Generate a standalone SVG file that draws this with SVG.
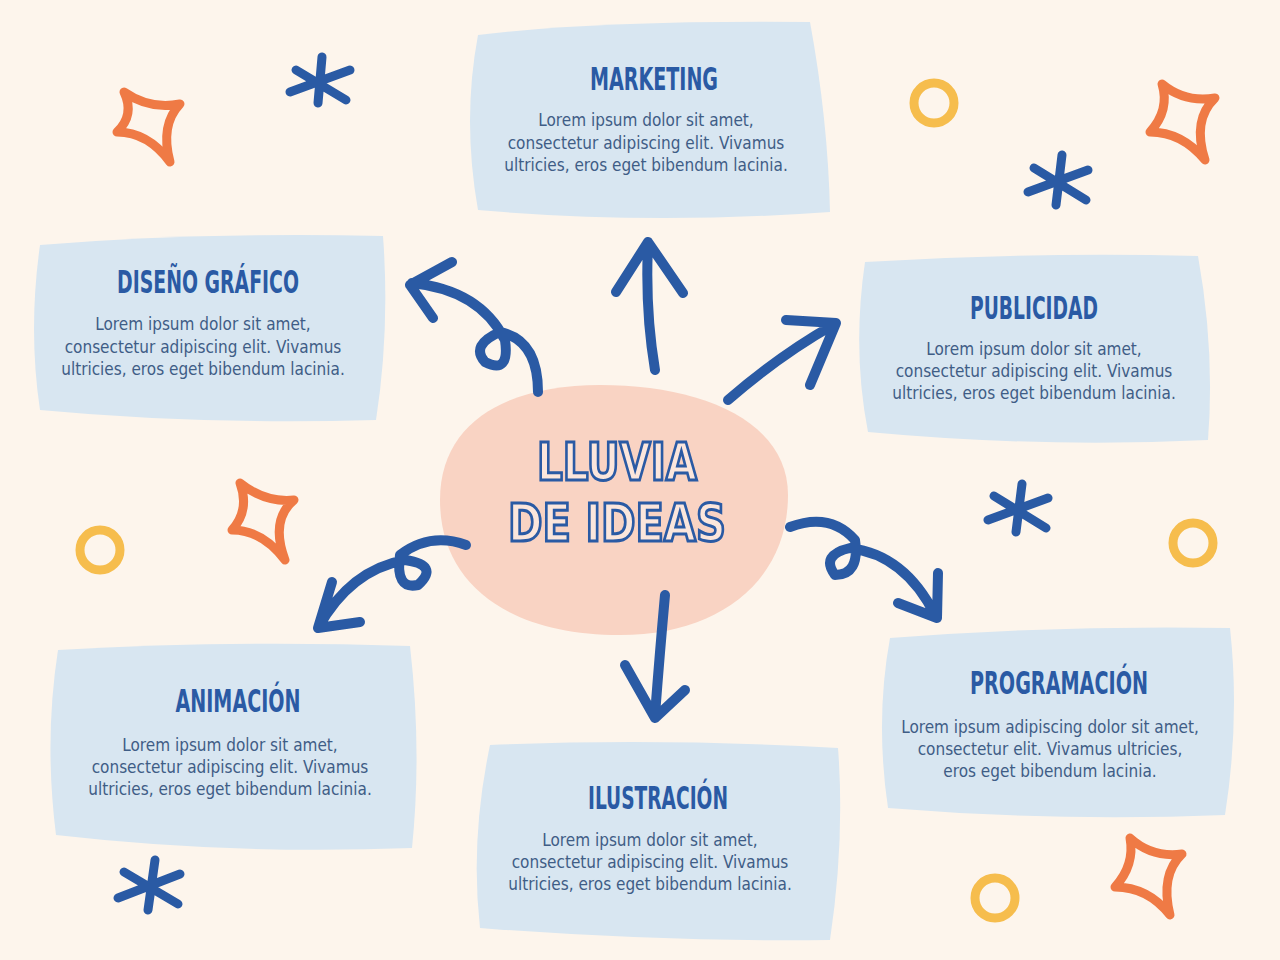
<svg xmlns="http://www.w3.org/2000/svg" width="1280" height="960" viewBox="0 0 1280 960">
<style>
.box{fill:#d8e6f1}
.ttl{font-family:"DejaVu Sans Condensed","DejaVu Sans",sans-serif;font-stretch:condensed;font-weight:bold;font-size:32px;fill:#2a5aa4;text-anchor:middle}
.txt{font-family:"DejaVu Sans Condensed","DejaVu Sans",sans-serif;font-stretch:condensed;font-size:17px;fill:#3f5d86;text-anchor:middle}
.arr{fill:none;stroke:#2a5aa4;stroke-width:10;stroke-linecap:round;stroke-linejoin:round}
.star{fill:none;stroke:#ef7a45;stroke-width:9;stroke-linejoin:round;stroke-linecap:round}
.ast{stroke:#2a5aa4;stroke-width:9;stroke-linecap:round}
.ring{fill:none;stroke:#f6bd4d;stroke-width:9}
.big{font-family:"DejaVu Sans Condensed","DejaVu Sans",sans-serif;font-stretch:condensed;font-weight:bold;font-size:52px;fill:#fbe6dc;stroke:#2a5aa4;stroke-width:3;text-anchor:middle}
</style>
<rect width="1280" height="960" fill="#fdf5ec"/>
<g id="decor">
<path class="star" d="M124 92 Q150 110 180 104 Q160 125 170 162 Q148 132 117 132 Q135 115 124 92Z"/>
<path class="star" d="M240 483 Q265 503 294 500 Q270 520 285 560 Q262 530 232 530 Q250 510 240 483Z"/>
<path class="star" d="M1162 84 Q1185 103 1215 98 Q1192 120 1205 160 Q1182 132 1150 132 Q1170 110 1162 84Z"/>
<path class="star" d="M1130 838 Q1152 858 1182 854 Q1160 875 1170 915 Q1148 887 1115 887 Q1135 865 1130 838Z"/>
<g class="ast"><path d="M322 57 L318 103 M290 92 L350 70 M296 70 L346 100"/></g>
<g class="ast"><path d="M1062 155 L1056 205 M1028 192 L1088 170 M1034 168 L1086 200"/></g>
<g class="ast"><path d="M1022 484 L1016 532 M988 520 L1048 498 M994 496 L1046 528"/></g>
<g class="ast"><path d="M155 860 L148 910 M118 898 L180 874 M124 872 L178 904"/></g>
<circle class="ring" cx="934" cy="103" r="20"/>
<circle class="ring" cx="100" cy="550" r="20"/>
<circle class="ring" cx="1193" cy="543" r="20"/>
<circle class="ring" cx="995" cy="898" r="20"/>
</g>
<g id="center">
<path d="M440 500 C440 420 510 385 600 385 C700 385 788 420 788 495 C788 580 720 635 620 635 C510 635 440 585 440 500Z" fill="#f9d3c3"/>
<text class="big" x="617" y="480" textLength="160" lengthAdjust="spacingAndGlyphs">LLUVIA</text>
<text class="big" x="617" y="541" textLength="218" lengthAdjust="spacingAndGlyphs">DE IDEAS</text>
</g>
<g id="n-marketing">
<path class="box" d="M478 35 Q600 20 810 22 Q828 120 830 212 Q650 225 478 210 Q462 120 478 35Z"/>
<text class="ttl" x="654" y="90" textLength="128" lengthAdjust="spacingAndGlyphs">MARKETING</text>
<text class="txt" x="646" y="126">Lorem ipsum dolor sit amet,</text>
<text class="txt" x="646" y="149">consectetur adipiscing elit. Vivamus</text>
<text class="txt" x="646" y="171">ultricies, eros eget bibendum lacinia.</text>
</g>
<g id="n-diseno">
<path class="box" d="M40 245 Q200 232 383 236 Q390 330 376 420 Q200 425 40 410 Q28 330 40 245Z"/>
<text class="ttl" x="208" y="293" textLength="182" lengthAdjust="spacingAndGlyphs">DISEÑO GRÁFICO</text>
<text class="txt" x="203" y="330">Lorem ipsum dolor sit amet,</text>
<text class="txt" x="203" y="353">consectetur adipiscing elit. Vivamus</text>
<text class="txt" x="203" y="375">ultricies, eros eget bibendum lacinia.</text>
</g>
<g id="n-publicidad">
<path class="box" d="M865 262 Q1030 252 1198 256 Q1215 350 1208 440 Q1040 448 868 432 Q852 350 865 262Z"/>
<text class="ttl" x="1034" y="319" textLength="128" lengthAdjust="spacingAndGlyphs">PUBLICIDAD</text>
<text class="txt" x="1034" y="355">Lorem ipsum dolor sit amet,</text>
<text class="txt" x="1034" y="377">consectetur adipiscing elit. Vivamus</text>
<text class="txt" x="1034" y="399">ultricies, eros eget bibendum lacinia.</text>
</g>
<g id="n-animacion">
<path class="box" d="M58 650 Q230 640 410 646 Q422 750 412 848 Q230 855 56 835 Q44 740 58 650Z"/>
<text class="ttl" x="238" y="712" textLength="125" lengthAdjust="spacingAndGlyphs">ANIMACIÓN</text>
<text class="txt" x="230" y="751">Lorem ipsum dolor sit amet,</text>
<text class="txt" x="230" y="773">consectetur adipiscing elit. Vivamus</text>
<text class="txt" x="230" y="795">ultricies, eros eget bibendum lacinia.</text>
</g>
<g id="n-ilustracion">
<path class="box" d="M490 745 Q660 738 838 748 Q845 840 830 940 Q660 942 480 928 Q470 840 490 745Z"/>
<text class="ttl" x="658" y="809" textLength="140" lengthAdjust="spacingAndGlyphs">ILUSTRACIÓN</text>
<text class="txt" x="650" y="846">Lorem ipsum dolor sit amet,</text>
<text class="txt" x="650" y="868">consectetur adipiscing elit. Vivamus</text>
<text class="txt" x="650" y="890">ultricies, eros eget bibendum lacinia.</text>
</g>
<g id="n-programacion">
<path class="box" d="M890 638 Q1060 625 1230 628 Q1240 720 1225 815 Q1060 822 888 808 Q875 720 890 638Z"/>
<text class="ttl" x="1059" y="694" textLength="178" lengthAdjust="spacingAndGlyphs">PROGRAMACIÓN</text>
<text class="txt" x="1050" y="733">Lorem ipsum adipiscing dolor sit amet,</text>
<text class="txt" x="1050" y="755">consectetur  elit. Vivamus ultricies,</text>
<text class="txt" x="1050" y="777">eros eget bibendum lacinia.</text>
</g>
<g id="connectors">
<path class="arr" d="M655 370 Q645 310 648 245 M616 292 L648 242 L683 293"/>
<path class="arr" d="M728 400 Q780 355 833 325 M786 320 L836 323 L810 385"/>
<path class="arr" d="M538 392 Q538 340 500 332 Q470 345 485 362 Q510 375 505 340 Q480 290 412 283 M452 262 L410 285 L433 318"/>
<path class="arr" d="M466 545 Q430 532 400 555 Q395 590 418 585 Q440 565 405 560 Q350 570 318 628 M332 582 L318 628 L360 622"/>
<path class="arr" d="M665 595 Q660 650 655 715 M625 665 L655 718 L685 690"/>
<path class="arr" d="M790 527 Q830 512 855 540 Q860 575 835 575 Q820 555 850 548 Q905 555 935 615 M898 603 L937 618 L938 573"/>
</g>
</svg>
